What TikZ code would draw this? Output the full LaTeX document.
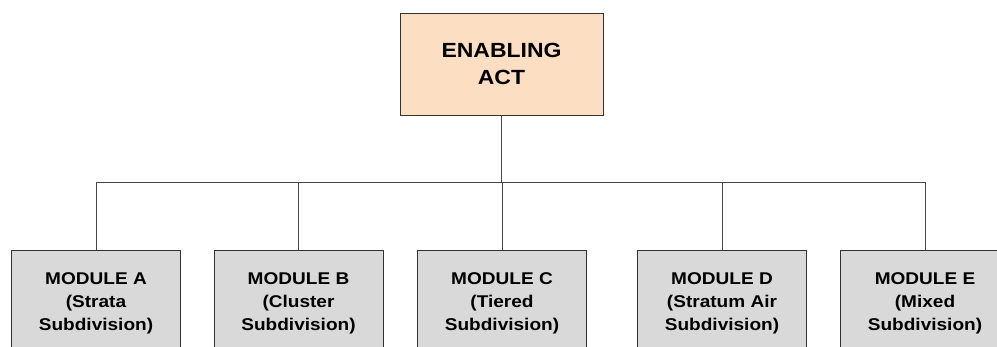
\documentclass[tikz,border=0pt]{standalone}
\usepackage{fontspec}
\setmainfont{Liberation Sans}
\newfontfamily\boxfont[FakeStretch=1.12]{Liberation Sans}
\definecolor{peach}{RGB}{252,222,194}
\definecolor{boxgray}{RGB}{217,217,217}
\definecolor{edge}{RGB}{50,50,50}
\definecolor{wire}{RGB}{70,70,70}
\begin{document}
\begin{tikzpicture}[x=1pt,y=1pt,
  headbox/.style={draw=edge, line width=0.9pt, fill=peach, align=center,
    minimum width=203, minimum height=102, inner sep=0pt,
    font=\boxfont\fontsize{20.5}{27}\selectfont\bfseries},
  modbox/.style={draw=edge, line width=0.9pt, fill=boxgray, align=center,
    minimum width=169, minimum height=106, inner sep=0pt,
    font=\boxfont\fontsize{17}{23}\selectfont\bfseries},
  link/.style={draw=wire, line width=0.9pt}]
\useasboundingbox (0,0) rectangle (997,347);
\clip (0,0) rectangle (997,347);
\fill[white] (0,0) rectangle (997,347);

% top of the hierarchy
\node[headbox] (act) at (501.5,283) {ENABLING\\ACT};

% five modules, their boxes running off the lower edge
\node[modbox] (mA) at (96,44)    {MODULE A\\(Strata\\Subdivision)};
\node[modbox] (mB) at (298.5,44) {MODULE B\\(Cluster\\Subdivision)};
\node[modbox] (mC) at (502,44)   {MODULE C\\(Tiered\\Subdivision)};
\node[modbox] (mD) at (722,44)   {MODULE D\\(Stratum Air\\Subdivision)};
\node[modbox] (mE) at (925,44)   {MODULE E\\(Mixed\\Subdivision)};

% bus line joining the act to each module
\coordinate (bus) at (501.5,165);
\draw[link] (act.south) -- (bus);
\draw[link] (mA.north) |- (mE.north |- bus) -- (mE.north);
\foreach \m in {mB,mC,mD}
  \draw[link] (\m.north) -- (\m.north |- bus);
\end{tikzpicture}
\end{document}
